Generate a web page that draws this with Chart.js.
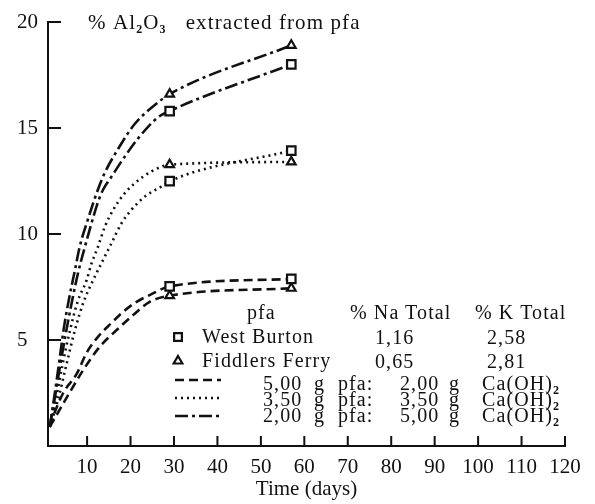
<!DOCTYPE html>
<html>
<head>
<meta charset="utf-8">
<script src="https://cdn.jsdelivr.net/npm/chart.js@4"></script>
<style>
  body { margin: 0; background: #fff; }
  #wrap { position: relative; width: 595px; height: 504px; font-family: 'Liberation Serif', serif; color: #111; }
  #wrap canvas { position: absolute; left: 0; top: 0; }
  .txt { position: absolute; font-size: 20px; line-height: 24px; white-space: nowrap; letter-spacing: 1.1px; }
  .txt sub { font-size: 12px; font-weight: bold; vertical-align: -4px; line-height: 0; }
</style>
</head>
<body>
<div id="wrap"><canvas id="chart" width="595" height="504"></canvas></div>
<script>
// axis ticks
const xTicks = [10, 20, 30, 40, 50, 60, 70, 80, 90, 100, 110, 120];
const yTicks = [5, 10, 15, 20];
const markerDays = [29, 57];

// legend text
const pfaNames = ['West Burton', 'Fiddlers Ferry'];
const naTotal = ['1,16', '0,65'];
const kTotal = ['2,58', '2,81'];
const pfaGrams = ['5,00', '3,50', '2,00'];
const limeGrams = ['2,00', '3,50', '5,00'];

// 5,00 g pfa : 2,00 g Ca(OH)2  (dashed)
const wb52Days = [1.4, 2.2, 4.5, 7.6, 9.9, 12.5, 15.6, 18.3, 21.4, 24.4, 29, 57];
const wb52Pct  = [0.9, 1.4, 2.5, 3.4, 4.4, 5.15, 5.8, 6.33, 6.8, 7.12, 7.53, 7.88];
const ff52Days = [1.4, 4.5, 9.1, 12.9, 16.8, 20.6, 24.4, 29, 57];
const ff52Pct  = [0.9, 2.0, 3.58, 4.68, 5.47, 6.18, 6.8, 7.09, 7.44];

// 3,50 g pfa : 3,50 g Ca(OH)2  (dotted)
const wb35Days = [1.4, 3.2, 5.2, 7.2, 9.2, 11.4, 13.3, 15.6, 17.9, 20.2, 23.3, 27.1, 29, 57];
const wb35Pct  = [0.9, 2.1, 3.8, 5.47, 6.8, 7.83, 8.62, 9.56, 10.5, 11.14, 11.77, 12.24, 12.49, 13.93];
const ff35Days = [1.4, 2.8, 4.3, 6.0, 7.8, 9.9, 11.0, 12.5, 14.1, 16.0, 18.7, 21.0, 24.8, 29, 57];
const ff35Pct  = [0.9, 2.2, 3.8, 5.4, 6.8, 7.83, 8.6, 9.4, 10.35, 11.14, 11.93, 12.4, 12.95, 13.27, 13.4];

// 2,00 g pfa : 5,00 g Ca(OH)2  (dash-dot)
const wb25Days = [1.4, 2.6, 3.8, 5.0, 6.4, 7.9, 9.5, 11.0, 12.5, 13.7, 15.6, 18.7, 21.7, 26.3, 29, 57];
const wb25Pct  = [0.9, 2.3, 3.8, 5.2, 6.7, 8.15, 9.4, 10.5, 11.5, 12.1, 12.7, 13.66, 14.5, 15.5, 15.8, 18.0];
const ff25Days = [1.4, 2.5, 3.6, 4.6, 5.8, 7.2, 8.3, 10.2, 12.5, 14.1, 17.1, 21.0, 26.3, 29, 57];
const ff25Pct  = [0.9, 2.4, 4.0, 5.5, 6.9, 8.3, 9.4, 10.7, 12.1, 12.9, 14.0, 15.2, 16.2, 16.6, 18.9];

const DASHED = [9, 5];
const DOTTED = [2, 4];
const DASHDOT = [13, 4, 3, 4];
const INK = '#111';

function pts(days, pct) {
  return days.map((d, i) => ({ x: d, y: pct[i] }));
}

function line(days, pct, dash, style) {
  return {
    data: pts(days, pct),
    borderColor: INK,
    borderWidth: 2.6,
    borderDash: dash,
    cubicInterpolationMode: 'monotone',
    pointStyle: style,
    pointRadius: c => (c.raw && markerDays.includes(c.raw.x)) ? (style === 'rect' ? 6 : 5) : 0,
    pointBorderWidth: 2.2,
    pointBorderColor: INK,
    pointBackgroundColor: '#fff',
    fill: false
  };
}

const datasets = [
  line(wb52Days, wb52Pct, DASHED, 'rect'),
  line(ff52Days, ff52Pct, DASHED, 'triangle'),
  line(wb35Days, wb35Pct, DOTTED, 'rect'),
  line(ff35Days, ff35Pct, DOTTED, 'triangle'),
  line(wb25Days, wb25Pct, DASHDOT, 'rect'),
  line(ff25Days, ff25Pct, DASHDOT, 'triangle')
];

// ticks pointing into the plot + legend keys
const inkPlugin = {
  id: 'ink',
  afterDraw(chart) {
    const { ctx, chartArea: a, scales: { x, y } } = chart;
    ctx.save();
    ctx.strokeStyle = INK;
    ctx.lineWidth = 2;
    ctx.beginPath();
    xTicks.forEach(v => {
      const px = x.getPixelForValue(v);
      ctx.moveTo(px, a.bottom);
      ctx.lineTo(px, a.bottom - 10);
    });
    yTicks.forEach(v => {
      const py = y.getPixelForValue(v);
      ctx.moveTo(a.left, py);
      ctx.lineTo(a.left + 13, py);
    });
    ctx.stroke();

    // legend markers
    ctx.fillStyle = '#fff';
    ctx.lineWidth = 2.2;
    Chart.helpers.drawPoint(ctx, { pointStyle: 'rect', radius: 5.5, borderWidth: 2, rotation: 0 }, 178, 337);
    Chart.helpers.drawPoint(ctx, { pointStyle: 'triangle', radius: 5, borderWidth: 2, rotation: 0 }, 178, 361);

    // legend line samples
    ctx.lineWidth = 2.6;
    [[DASHED, 380], [DOTTED, 398], [DASHDOT, 416]].forEach(([d, ly]) => {
      ctx.setLineDash(d);
      ctx.beginPath();
      ctx.moveTo(175, ly);
      ctx.lineTo(221, ly);
      ctx.stroke();
    });
    ctx.restore();
  }
};

Chart.defaults.font.family = "'Liberation Serif', serif";
Chart.defaults.color = INK;

new Chart(document.getElementById('chart'), {
  type: 'line',
  data: { datasets: datasets },
  options: {
    responsive: false,
    animation: false,
    events: [],
    layout: { padding: { left: 17, top: 22, right: 30, bottom: 0 } },
    plugins: { legend: { display: false }, tooltip: { enabled: false } },
    scales: {
      x: {
        type: 'linear',
        min: 1,
        max: 120,
        afterBuildTicks: s => { s.ticks = xTicks.map(v => ({ value: v })); },
        afterFit: s => { s.height = 58; },
        grid: { display: false, drawTicks: false },
        border: { display: true, color: INK, width: 2 },
        ticks: { font: { size: 21 }, padding: 9, maxRotation: 0, autoSkip: false, color: INK },
        title: { display: true, text: 'Time (days)', font: { size: 21 }, color: INK, padding: { top: 0, bottom: 2 } }
      },
      y: {
        min: 0,
        max: 20,
        afterBuildTicks: s => { s.ticks = yTicks.map(v => ({ value: v })); },
        afterFit: s => { s.width = 31; },
        grid: { display: false, drawTicks: false },
        border: { display: true, color: INK, width: 2 },
        ticks: { font: { size: 21 }, crossAlign: 'far', color: INK, padding: 5 }
      }
    }
  },
  plugins: [inkPlugin]
});

// text overlay
const wrap = document.getElementById('wrap');
function place(html, x, cy, size) {
  const el = document.createElement('div');
  el.className = 'txt';
  el.innerHTML = html;
  el.style.left = x + 'px';
  el.style.top = (cy - 12) + 'px';
  if (size) el.style.fontSize = size + 'px';
  wrap.appendChild(el);
}

place('%&nbsp;Al<sub>2</sub>O<sub>3</sub>&nbsp;&nbsp; extracted from pfa', 88, 22, 21);
place('pfa', 247, 312);
place('% Na Total', 350, 312);
place('% K Total', 475, 312);
const rowY = [336, 360];
pfaNames.forEach((n, i) => {
  place(n, 202, rowY[i]);
  place(naTotal[i], 375, rowY[i] + 1);
  place(kTotal[i], 487, rowY[i] + 1);
});
const mixY = [383, 399, 415];
pfaGrams.forEach((g, i) => {
  place(g, 263, mixY[i]);
  place('g', 314, mixY[i]);
  place('pfa:', 338, mixY[i]);
  place(limeGrams[i], 400, mixY[i]);
  place('g', 449, mixY[i]);
  place('Ca(OH)<sub>2</sub>', 482, mixY[i]);
});
</script>
</body>
</html>
